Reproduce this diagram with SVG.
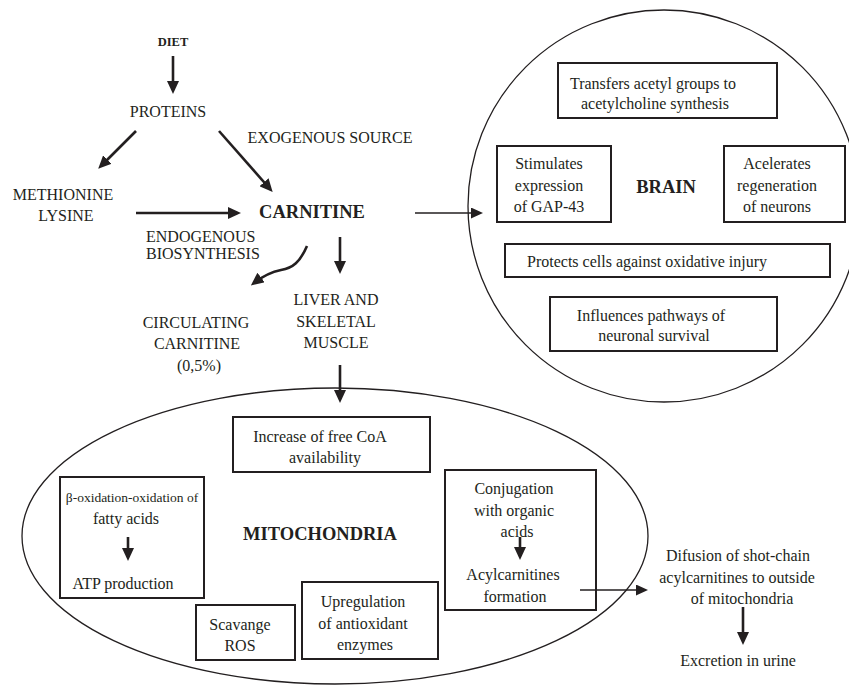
<svg xmlns="http://www.w3.org/2000/svg" width="849" height="686" viewBox="0 0 849 686">
<defs>
<style>
text{font-family:'Liberation Serif','Tinos','Times New Roman','DejaVu Serif',serif;font-size:16px;fill:#231f20;text-anchor:middle}
.b{font-weight:bold;font-size:18.5px}
.s{font-size:12.5px;font-weight:bold}
.box{fill:none;stroke:#231f20;stroke-width:2}
.org{fill:none;stroke:#231f20;stroke-width:1.3}
.thick{fill:none;stroke:#231f20;stroke-width:2.6;marker-end:url(#ah)}
.thin{fill:none;stroke:#231f20;stroke-width:1.3;marker-end:url(#ahs)}
</style>
<marker id="ah" markerUnits="userSpaceOnUse" viewBox="0 0 13 12" markerWidth="13" markerHeight="12" refX="9" refY="6" orient="auto"><path d="M0,0 L13,6 L0,12 z" fill="#231f20"/></marker>
<marker id="ahs" markerUnits="userSpaceOnUse" viewBox="0 0 12 11" markerWidth="12" markerHeight="11" refX="10" refY="5.5" orient="auto"><path d="M0,0 L12,5.5 L0,11 z" fill="#231f20"/></marker>
</defs>

<g id="brain">
<ellipse class="org" cx="664" cy="206" rx="196" ry="196"/>
<text class="b" x="666" y="193">BRAIN</text>
</g>
<g id="mitochondria">
<ellipse class="org" cx="335" cy="536" rx="313" ry="148"/>
<text class="b" x="320" y="540">MITOCHONDRIA</text>
</g>

<g id="diet"><text class="s" x="173" y="46">DIET</text></g>
<g id="proteins"><text x="168" y="117">PROTEINS</text></g>
<g id="exogenous"><text x="330" y="143">EXOGENOUS SOURCE</text></g>
<g id="methionine"><text x="63" y="200">METHIONINE</text><text x="66" y="221">LYSINE</text></g>
<g id="carnitine"><text class="b" x="312" y="218">CARNITINE</text></g>
<g id="endogenous"><text x="146" y="242" style="text-anchor:start">ENDOGENOUS</text><text x="146" y="259" style="text-anchor:start">BIOSYNTHESIS</text></g>
<g id="circulating"><text x="196" y="328">CIRCULATING</text><text x="197" y="349">CARNITINE</text><text x="199" y="371">(0,5%)</text></g>
<g id="liver"><text x="336" y="305">LIVER AND</text><text x="336" y="327">SKELETAL</text><text x="336" y="348">MUSCLE</text></g>

<g id="transfers"><rect class="box" x="558" y="63" width="219" height="55"/><text x="653" y="89">Transfers acetyl groups to</text><text x="655" y="109">acetylcholine synthesis</text></g>
<g id="stimulates"><rect class="box" x="497" y="146" width="114" height="76"/><text x="549" y="169">Stimulates</text><text x="549" y="191">expression</text><text x="549" y="212">of GAP-43</text></g>
<g id="acelerates"><rect class="box" x="724" y="146" width="121" height="76"/><text x="777" y="169">Acelerates</text><text x="777" y="191">regeneration</text><text x="777" y="212">of neurons</text></g>
<g id="protects"><rect class="box" x="505" y="244" width="325" height="33"/><text x="647" y="267">Protects cells against oxidative injury</text></g>
<g id="influences"><rect class="box" x="550" y="297" width="227" height="54"/><text x="651" y="321">Influences pathways of</text><text x="654" y="341">neuronal survival</text></g>

<g id="coa"><rect class="box" x="233" y="417" width="197" height="55"/><text x="320" y="442">Increase of free CoA</text><text x="325" y="463">availability</text></g>
<g id="beta"><rect class="box" x="60" y="477" width="144" height="121"/><text x="132" y="502" style="font-size:13.5px">β-oxidation-oxidation of</text><text x="126" y="524">fatty acids</text><text x="123" y="589">ATP production</text></g>
<g id="scavange"><rect class="box" x="196" y="605" width="99" height="55"/><text x="240" y="630">Scavange</text><text x="240" y="651">ROS</text></g>
<g id="upregulation"><rect class="box" x="302" y="582" width="136" height="77"/><text x="363" y="607">Upregulation</text><text x="363" y="629">of antioxidant</text><text x="365" y="650">enzymes</text></g>
<g id="conjugation"><rect class="box" x="445" y="470" width="151" height="140"/><text x="514" y="494">Conjugation</text><text x="514" y="516">with organic</text><text x="517" y="537">acids</text><text x="513" y="580">Acylcarnitines</text><text x="515" y="602">formation</text></g>
<g id="difusion"><text x="738" y="561">Difusion of shot-chain</text><text x="737" y="583">acylcarnitines to outside</text><text x="742" y="604">of mitochondria</text></g>
<g id="excretion"><text x="738" y="666">Excretion in urine</text></g>

<g id="connectors">
<line class="thick" x1="173" y1="56" x2="173" y2="90"/>
<line class="thick" x1="136" y1="131" x2="101" y2="166"/>
<line class="thick" x1="219" y1="131" x2="270" y2="189"/>
<line class="thick" x1="136" y1="213" x2="237" y2="213"/>
<line class="thin" x1="415" y1="213" x2="481" y2="213"/>
<path class="thick" d="M307,246 C300,262 293,268 281,270 C271,272 263,276 254,283"/>
<line class="thick" x1="340" y1="237" x2="340" y2="270"/>
<line class="thick" x1="340" y1="365" x2="340" y2="399"/>
<line class="thick" x1="128" y1="537" x2="128" y2="557"/>
<line class="thick" x1="520" y1="537" x2="520" y2="556"/>
<line class="thin" x1="580" y1="590" x2="646" y2="590"/>
<line class="thick" x1="743" y1="607" x2="743" y2="641"/>
</g>
</svg>
